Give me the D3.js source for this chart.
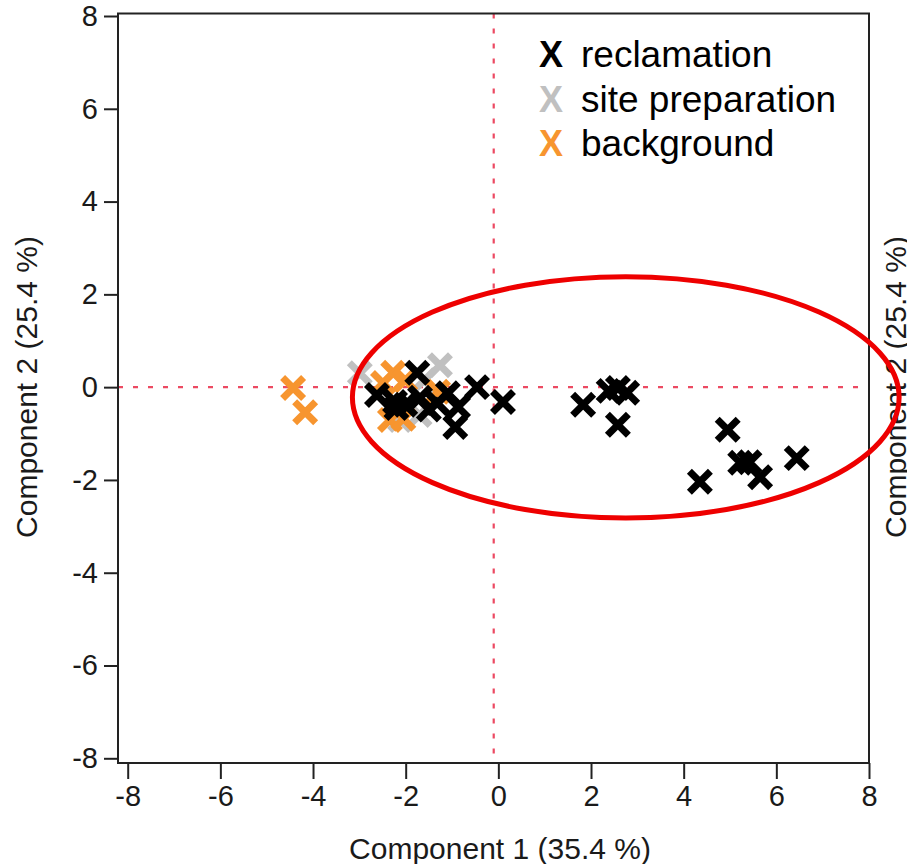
<!DOCTYPE html>
<html>
<head>
<meta charset="utf-8">
<script src="https://cdn.jsdelivr.net/npm/d3@7"></script>
<style>
  body { margin: 0; background: #fff; }
  svg { display: block; font-family: "Liberation Sans", Arial, sans-serif; }
</style>
</head>
<body>
<svg id="chart" width="907" height="864"></svg>
<script>
// PCA scores (Component 1, Component 2)
const reclamation = [
  [-2.62, -0.17], [-2.23, -0.32], [-2.01, -0.38], [-2.2, -0.45], [-1.75, 0.31],
  [-1.69, -0.23], [-1.5, -0.48], [-1.32, -0.34], [-1.09, -0.13], [-0.87, -0.43],
  [-0.93, -0.86], [-0.46, 0.0], [0.10, -0.32],
  [1.83, -0.38], [2.38, -0.08], [2.58, -0.02], [2.78, -0.12], [2.58, -0.81],
  [4.35, -2.04], [4.95, -0.92], [5.22, -1.63], [5.42, -1.62], [5.65, -1.94], [6.44, -1.53]
];
const sitePreparation = [
  [-2.99, 0.30], [-1.26, 0.47], [-1.6, 0.15], [-2.12, -0.71], [-1.7, -0.6]
];
const background = [
  [-4.43, -0.02], [-4.17, -0.54], [-2.27, 0.31], [-2.49, 0.09], [-2.01, 0.15],
  [-2.34, -0.71], [-2.05, -0.68], [-1.3, -0.1]
];
const groups = ["reclamation", "site preparation", "background"];
const groupColors = ["#000000", "#c0c0c0", "#f7952f"];
const xTicks = [-8, -6, -4, -2, 0, 2, 4, 6, 8];
const yTicks = [-8, -6, -4, -2, 0, 2, 4, 6, 8];
const xLabel = "Component 1 (35.4 %)";
const yLabel = "Component 2 (25.4 %)";
// highlight ellipse: centre, radii in data units
const ellipse = { cx: 2.75, cy: -0.22, rx: 5.9, ry: 2.6 };

const svg = d3.select("#chart");
const box = { left: 118, right: 869, top: 13.5, bottom: 763 };

const x = d3.scaleLinear().domain([-8, 8]).range([127.7, 869]);
const y = d3.scaleLinear().domain([-8, 8]).range([758.3, 16]);

// dotted origin lines
svg.append("line")
  .attr("x1", box.left).attr("x2", box.right)
  .attr("y1", y(0)).attr("y2", y(0))
  .attr("stroke", "#ec4a62").attr("stroke-width", 2.2)
  .attr("stroke-dasharray", "5,10");
svg.append("line")
  .attr("x1", x(-0.1)).attr("x2", x(-0.1))
  .attr("y1", box.top).attr("y2", box.bottom)
  .attr("stroke", "#ec4a62").attr("stroke-width", 2.2)
  .attr("stroke-dasharray", "5,10");

// points drawn as thick crosses
const s = 10.5;
function cross(g, data, color) {
  g.selectAll(null)
    .data(data)
    .enter()
    .append("path")
    .attr("d", d => {
      const px = x(d[0]), py = y(d[1]);
      return `M${px - s},${py - s}L${px + s},${py + s}M${px - s},${py + s}L${px + s},${py - s}`;
    })
    .attr("stroke", color)
    .attr("stroke-width", 7)
    .attr("fill", "none");
}
const pts = svg.append("g");
cross(pts, sitePreparation, groupColors[1]);
cross(pts, background, groupColors[2]);
cross(pts, reclamation, groupColors[0]);

// frame
svg.append("rect")
  .attr("x", box.left).attr("y", box.top)
  .attr("width", box.right - box.left).attr("height", box.bottom - box.top)
  .attr("fill", "none").attr("stroke", "#222").attr("stroke-width", 2);

// axes
const xAxis = svg.append("g")
  .attr("transform", `translate(0,${box.bottom})`)
  .call(d3.axisBottom(x).tickValues(xTicks).tickSize(16).tickPadding(6).tickFormat(d3.format("d")));
const yAxis = svg.append("g")
  .attr("transform", `translate(${box.left},0)`)
  .call(d3.axisLeft(y).tickValues(yTicks).tickSize(14).tickPadding(6).tickFormat(d3.format("d")));
[xAxis, yAxis].forEach(a => {
  a.select(".domain").remove();
  a.selectAll(".tick line").attr("stroke", "#222").attr("stroke-width", 2);
  a.selectAll(".tick text")
    .attr("fill", "#1a1a1a")
    .style("font-size", "29px")
    .style("font-family", "'Liberation Sans', Arial, sans-serif");
});
xAxis.selectAll(".tick text").text(d => d < 0 ? "-" + Math.abs(d) : d);
yAxis.selectAll(".tick text").text(d => d < 0 ? "-" + Math.abs(d) : d);

// axis titles
svg.append("text")
  .attr("x", 500).attr("y", 859)
  .attr("text-anchor", "middle")
  .attr("fill", "#1a1a1a").style("font-size", "30px")
  .text(xLabel);
svg.append("text")
  .attr("transform", "translate(37,387) rotate(-90)")
  .attr("text-anchor", "middle")
  .attr("fill", "#1a1a1a").style("font-size", "30px")
  .text(yLabel);
svg.append("text")
  .attr("transform", "translate(906,387) rotate(-90)")
  .attr("text-anchor", "middle")
  .attr("fill", "#1a1a1a").style("font-size", "30px")
  .text(yLabel);

// highlight ellipse
svg.append("ellipse")
  .attr("cx", x(ellipse.cx)).attr("cy", y(ellipse.cy))
  .attr("rx", x(ellipse.cx + ellipse.rx) - x(ellipse.cx))
  .attr("ry", y(ellipse.cy - ellipse.ry) - y(ellipse.cy))
  .attr("fill", "none").attr("stroke", "#ee0000").attr("stroke-width", 5);

// legend
const legend = svg.append("g");
groups.forEach((name, i) => {
  const by = 67 + i * 44.5;
  legend.append("text")
    .attr("x", 539).attr("y", by)
    .attr("fill", groupColors[i])
    .style("font-size", "36px").style("font-weight", "bold")
    .text("X");
  legend.append("text")
    .attr("x", 581).attr("y", by)
    .attr("fill", "#000")
    .style("font-size", "37px")
    .text(name);
});
</script>
</body>
</html>
